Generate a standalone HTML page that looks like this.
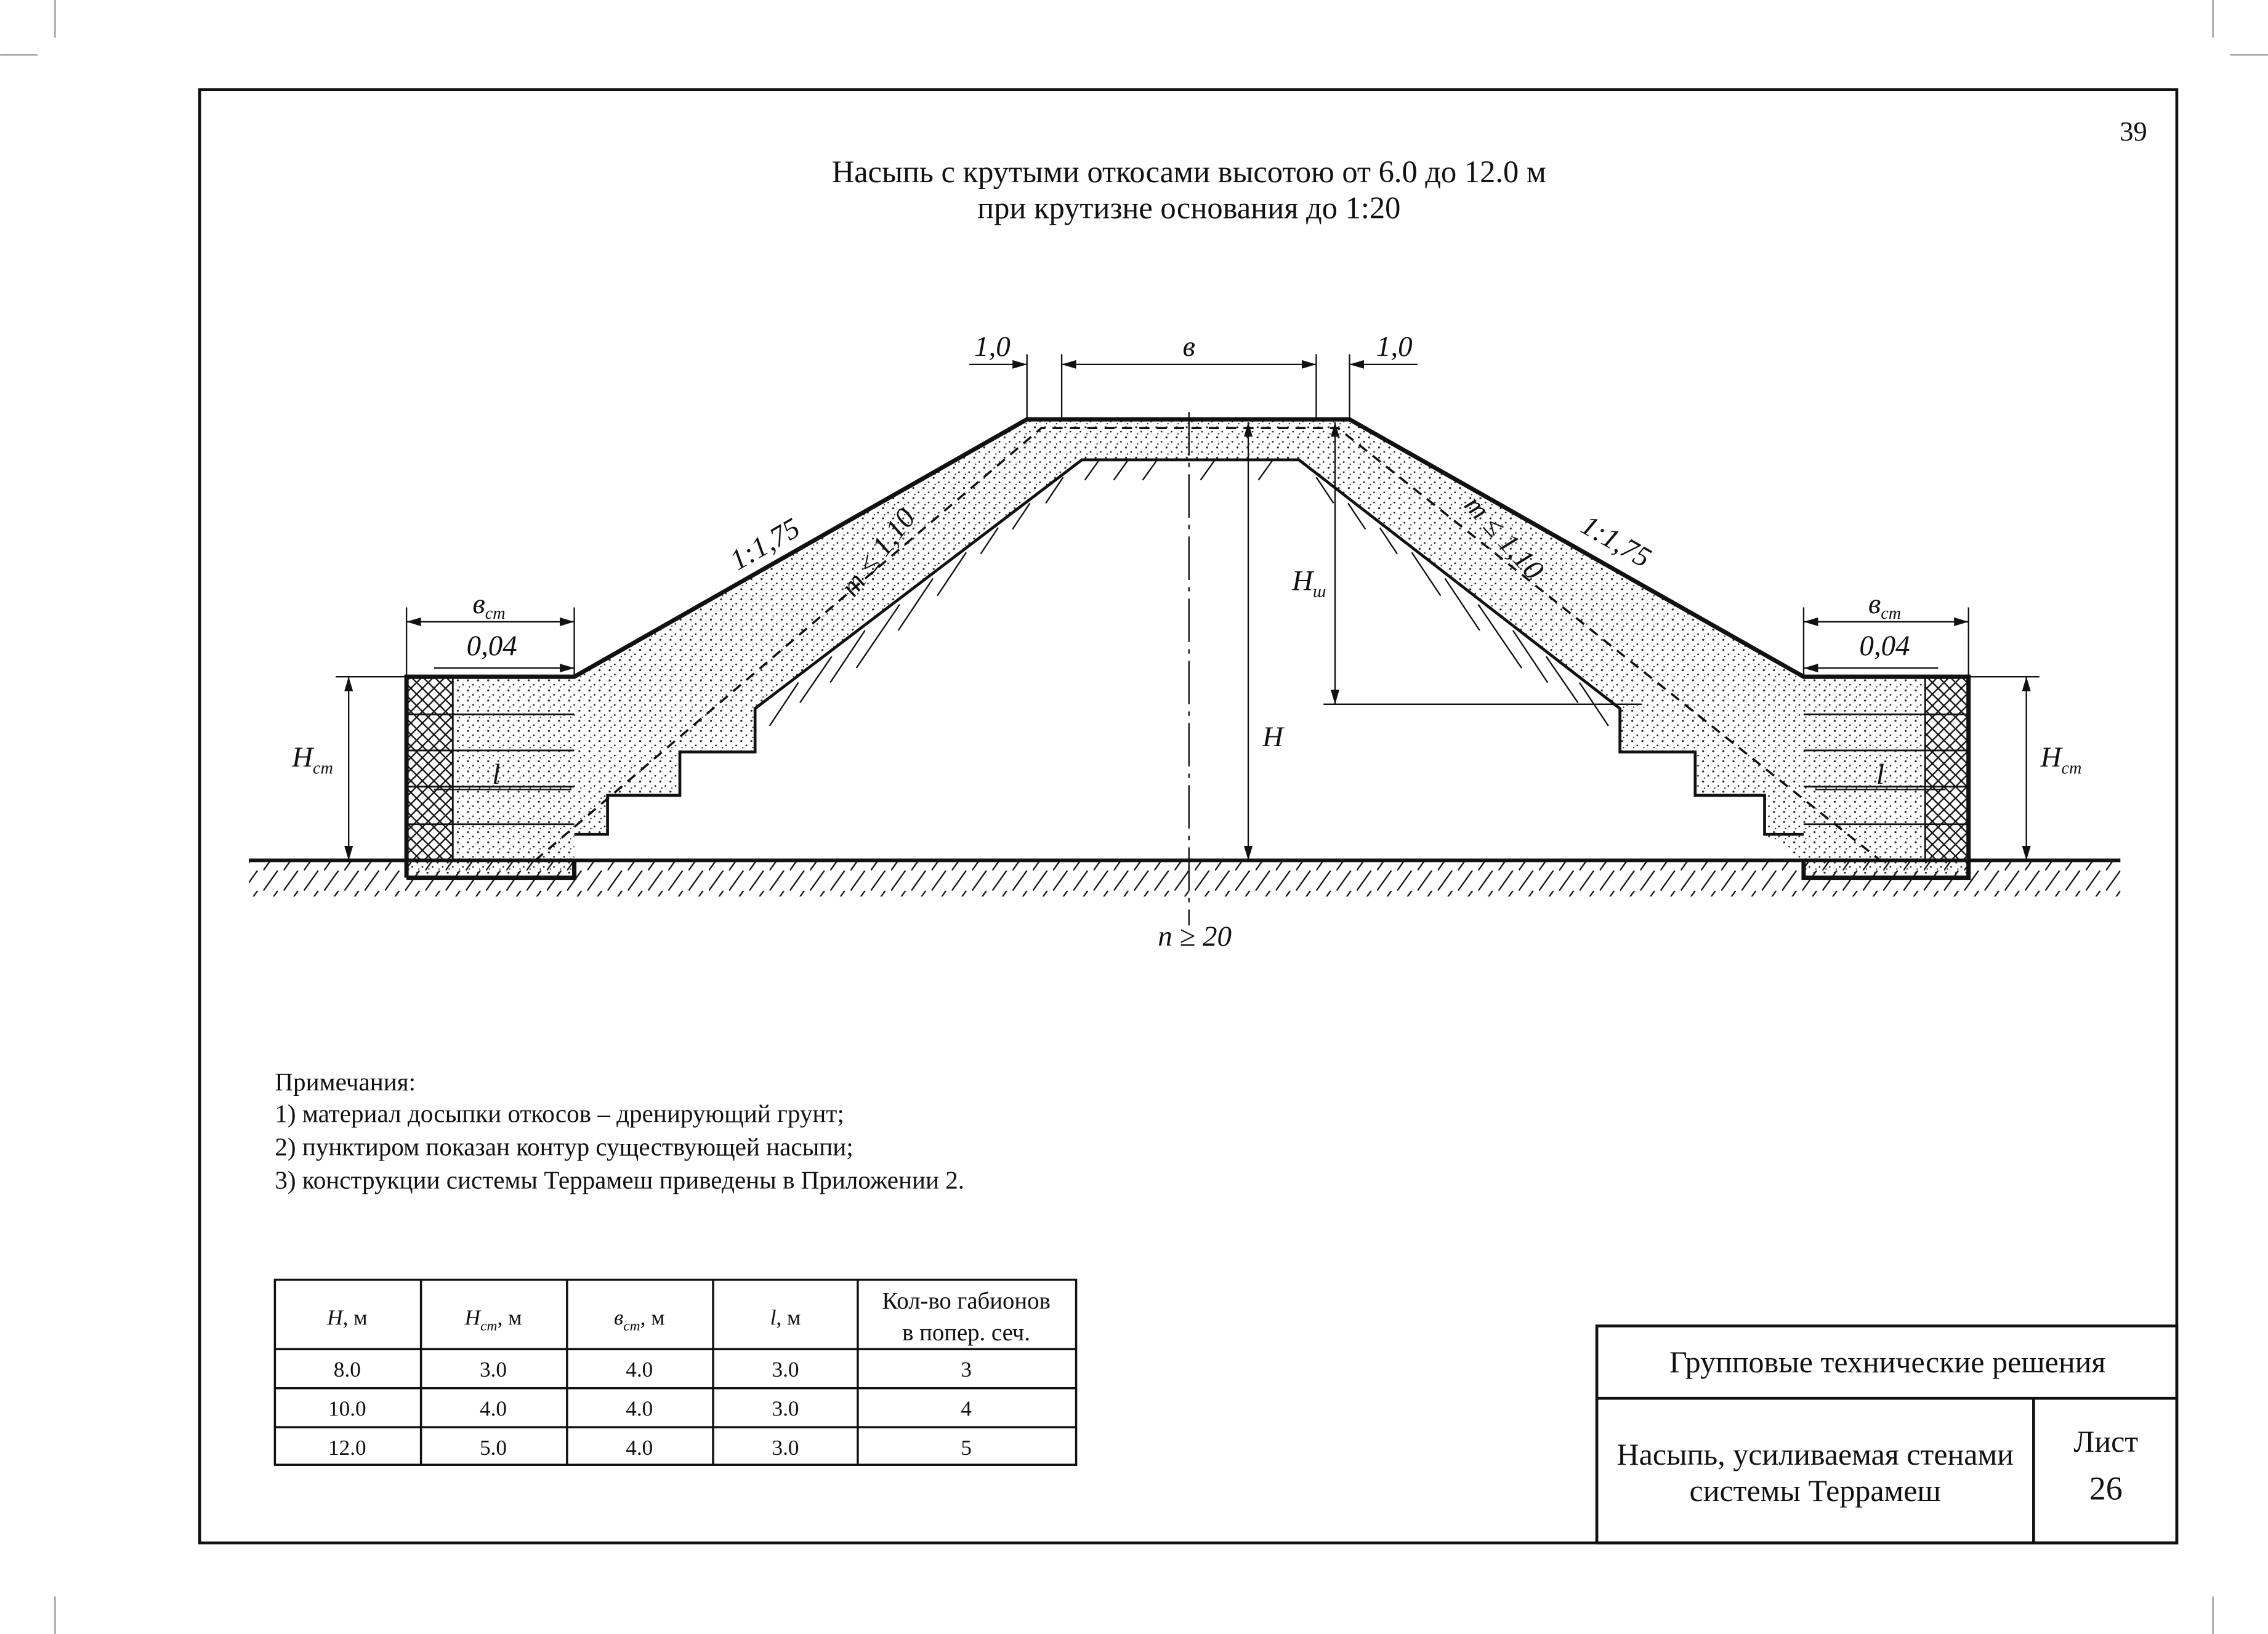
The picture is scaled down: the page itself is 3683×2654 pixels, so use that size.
<!DOCTYPE html>
<html><head><meta charset="utf-8">
<style>
html,body{margin:0;padding:0;background:#fff;}
svg{display:block;}
text{font-family:"Liberation Serif",serif;fill:#111;}
.it{font-style:italic;}
</style></head>
<body>
<svg width="3683" height="2654" viewBox="0 0 1568 1130" xmlns="http://www.w3.org/2000/svg">
<defs>
<pattern id="dots" width="7" height="7" patternUnits="userSpaceOnUse">
<circle cx="1.5" cy="1.5" r="0.7" fill="#222"/><circle cx="5" cy="4.5" r="0.6" fill="#222"/><circle cx="2.5" cy="6" r="0.5" fill="#222"/>
</pattern>
<pattern id="xh" width="8" height="8" patternUnits="userSpaceOnUse">
<rect width="8" height="8" fill="#fff"/>
<path d="M0,0L8,8M8,0L0,8" stroke="#111" stroke-width="1"/>
</pattern>
<pattern id="gh" width="14" height="14" patternUnits="userSpaceOnUse">
<path d="M0,14L10,0" stroke="#111" stroke-width="1"/>
</pattern>
</defs>
<rect width="1568" height="1130" fill="#fff"/>
<g stroke="#999" stroke-width="1">
<line x1="38" y1="0" x2="38" y2="26"/><line x1="0" y1="38" x2="26" y2="38"/>
<line x1="1530" y1="0" x2="1530" y2="26"/><line x1="1542" y1="38" x2="1568" y2="38"/>
<line x1="38" y1="1104" x2="38" y2="1130"/><line x1="1530" y1="1104" x2="1530" y2="1130"/>
</g>
<rect x="138" y="62" width="1367" height="1005" fill="none" stroke="#111" stroke-width="2"/>
<text x="1475" y="97" font-size="19" text-anchor="middle">39</text>
<text x="822" y="126" font-size="21.5" text-anchor="middle">Насыпь с крутыми откосами высотою от 6.0 до 12.0 м</text>
<text x="822" y="151" font-size="21.5" text-anchor="middle">при крутизне основания до 1:20</text>

<rect x="172" y="596" width="1294" height="24" fill="url(#gh)"/>
<path d="M397,468 L710,290 L933,290 L1247,468 L1247,595 L1220,577 L1220,550 L1172,550 L1172,520 L1120,520 L1120,490 L898,318 L748,318 L522,490 L522,520 L470,520 L470,550 L420,550 L420,577 L397,577 Z" fill="url(#dots)" stroke="none"/>
<g stroke="#111" stroke-width="1">
<path d="M760,318 l-10,14 M780,318 l-10,14 M800,318 l-10,14 M840,318 l-10,14 M880,318 l-10,14"/>
<path d="M735,330 l-12,18 M712,348 l-12,18 M690,365 l-12,18 M668,382 l-20,30 M645,400 l-24,36 M622,418 l-30,44 M598,436 l-24,36 M575,454 l-22,32 M552,472 l-20,30"/>
<path d="M910,330 l12,18 M932,348 l12,18 M954,365 l12,18 M976,382 l20,30 M999,400 l24,36 M1022,418 l30,44 M1046,436 l24,36 M1069,454 l22,32 M1092,472 l20,30"/>
</g>
<rect x="281" y="468" width="116" height="139" fill="url(#dots)"/>
<rect x="281" y="468" width="32" height="127" fill="url(#xh)"/>
<rect x="1247" y="468" width="114" height="139" fill="url(#dots)"/>
<rect x="1331" y="468" width="30" height="127" fill="url(#xh)"/>
<g stroke="#111" stroke-width="1.2">
<line x1="281" y1="494" x2="397" y2="494"/><line x1="281" y1="519" x2="397" y2="519"/><line x1="281" y1="544" x2="397" y2="544"/><line x1="281" y1="570" x2="397" y2="570"/>
<line x1="313" y1="468" x2="313" y2="595"/>
<line x1="1247" y1="494" x2="1361" y2="494"/><line x1="1247" y1="519" x2="1361" y2="519"/><line x1="1247" y1="544" x2="1361" y2="544"/><line x1="1247" y1="570" x2="1361" y2="570"/>
<line x1="1331" y1="468" x2="1331" y2="595"/>
</g>
<g fill="none" stroke="#111">
<path d="M281,607 L281,468 L397,468 L710,290 L933,290 L1247,468 L1361,468 L1361,607 L1247,607 L1247,595 M397,595 L397,607 L281,607" stroke-width="3"/>
<path d="M397,577 L420,577 L420,550 L470,550 L470,520 L522,520 L522,490 L748,318 L898,318 L1120,490 L1120,520 L1172,520 L1172,550 L1220,550 L1220,577 L1247,577" stroke-width="2"/>
<line x1="172" y1="595" x2="1466" y2="595" stroke-width="2.5"/>
<path d="M370,595 L720,296 L925,296 L1300,595" stroke-width="1.5" stroke-dasharray="7,5"/>
<line x1="822" y1="285" x2="822" y2="640" stroke-width="1" stroke-dasharray="30,5,3,5"/>
</g>
<g stroke="#111" stroke-width="1" fill="none">
<line x1="710" y1="245" x2="710" y2="290"/><line x1="734" y1="245" x2="734" y2="290"/>
<line x1="910" y1="245" x2="910" y2="290"/><line x1="933" y1="245" x2="933" y2="290"/>
<line x1="670" y1="252" x2="710" y2="252"/><line x1="734" y1="252" x2="910" y2="252"/><line x1="933" y1="252" x2="980" y2="252"/>
<line x1="863" y1="292" x2="863" y2="595"/>
<line x1="923" y1="292" x2="923" y2="487"/><line x1="915" y1="487" x2="1135" y2="487"/>
<line x1="281" y1="420" x2="281" y2="468"/><line x1="397" y1="420" x2="397" y2="468"/>
<line x1="281" y1="430" x2="397" y2="430"/><line x1="300" y1="462" x2="397" y2="462"/>
<line x1="1247" y1="420" x2="1247" y2="468"/><line x1="1361" y1="420" x2="1361" y2="468"/>
<line x1="1247" y1="430" x2="1361" y2="430"/><line x1="1247" y1="462" x2="1340" y2="462"/>
<line x1="232" y1="468" x2="281" y2="468"/><line x1="241" y1="468" x2="241" y2="595"/>
<line x1="1361" y1="468" x2="1410" y2="468"/><line x1="1401" y1="468" x2="1401" y2="595"/>
<line x1="300" y1="546" x2="395" y2="546"/><line x1="1255" y1="546" x2="1345" y2="546"/>
</g>
<g fill="#111">
<path d="M710,252 l-10,-3 v6z"/><path d="M734,252 l10,-3 v6z"/><path d="M910,252 l-10,-3 v6z"/><path d="M933,252 l10,-3 v6z"/>
<path d="M863,292 l-3,10 h6z"/><path d="M863,595 l-3,-10 h6z"/>
<path d="M923,292 l-3,10 h6z"/><path d="M923,487 l-3,-10 h6z"/>
<path d="M281,430 l10,-3 v6z"/><path d="M397,430 l-10,-3 v6z"/><path d="M397,462 l-10,-3 v6z"/>
<path d="M1247,430 l10,-3 v6z"/><path d="M1361,430 l-10,-3 v6z"/><path d="M1247,462 l10,-3 v6z"/>
<path d="M241,468 l-3,10 h6z"/><path d="M241,595 l-3,-10 h6z"/>
<path d="M1401,468 l-3,10 h6z"/><path d="M1401,595 l-3,-10 h6z"/>
</g>
<g class="it" font-size="20">
<text x="686" y="246" text-anchor="middle">1,0</text>
<text x="822" y="246" text-anchor="middle">в</text>
<text x="964" y="246" text-anchor="middle">1,0</text>
<text x="880" y="516" text-anchor="middle">H</text>
<text x="905" y="408" text-anchor="middle">H<tspan font-size="12" dy="5">ш</tspan></text>
<text x="338" y="424" text-anchor="middle">в<tspan font-size="12" dy="4">ст</tspan></text>
<text x="340" y="453" text-anchor="middle">0,04</text>
<text x="1303" y="424" text-anchor="middle">в<tspan font-size="12" dy="4">ст</tspan></text>
<text x="1303" y="453" text-anchor="middle">0,04</text>
<text x="216" y="530" text-anchor="middle">H<tspan font-size="12" dy="5">ст</tspan></text>
<text x="1425" y="530" text-anchor="middle">H<tspan font-size="12" dy="5">ст</tspan></text>
<text x="343" y="542" text-anchor="middle">l</text>
<text x="1300" y="542" text-anchor="middle">l</text>
<text x="826" y="654" text-anchor="middle">n ≥ 20</text>
<text transform="translate(532,382) rotate(-30)" text-anchor="middle">1:1,75</text>
<text transform="translate(1114,380) rotate(30)" text-anchor="middle">1:1,75</text>
<text transform="translate(612,386) rotate(-52)" text-anchor="middle">m ≤ 1,10</text>
<text transform="translate(1035,376) rotate(48)" text-anchor="middle">m ≤ 1,10</text>
</g>
<g font-size="17.5">
<text x="190" y="754">Примечания:</text>
<text x="190" y="776">1) материал досыпки откосов – дренирующий грунт;</text>
<text x="190" y="799">2) пунктиром показан контур существующей насыпи;</text>
<text x="190" y="822">3) конструкции системы Террамеш приведены в Приложении 2.</text>
</g>
<g stroke="#111" stroke-width="1.5" fill="none">
<rect x="190" y="885" width="554" height="128"/>
<line x1="190" y1="933" x2="744" y2="933"/><line x1="190" y1="960" x2="744" y2="960"/><line x1="190" y1="987" x2="744" y2="987"/>
<line x1="291" y1="885" x2="291" y2="1013"/><line x1="392" y1="885" x2="392" y2="1013"/><line x1="493" y1="885" x2="493" y2="1013"/><line x1="593" y1="885" x2="593" y2="1013"/>
</g>
<g font-size="15" text-anchor="middle">
<text x="240" y="916"><tspan class="it">H</tspan>, м</text>
<text x="341" y="916"><tspan class="it">H<tspan font-size="10" dy="4">ст</tspan></tspan><tspan dy="-4">, м</tspan></text>
<text x="442" y="916"><tspan class="it">в<tspan font-size="10" dy="4">ст</tspan></tspan><tspan dy="-4">, м</tspan></text>
<text x="543" y="916"><tspan class="it">l</tspan>, м</text>
<text x="668" y="905" font-size="16.5">Кол-во габионов</text>
<text x="668" y="927" font-size="16.5">в попер. сеч.</text>
<text x="240" y="952">8.0</text><text x="341" y="952">3.0</text><text x="442" y="952">4.0</text><text x="543" y="952">3.0</text><text x="668" y="952">3</text>
<text x="240" y="979">10.0</text><text x="341" y="979">4.0</text><text x="442" y="979">4.0</text><text x="543" y="979">3.0</text><text x="668" y="979">4</text>
<text x="240" y="1006">12.0</text><text x="341" y="1006">5.0</text><text x="442" y="1006">4.0</text><text x="543" y="1006">3.0</text><text x="668" y="1006">5</text>
</g>
<g stroke="#111" stroke-width="2" fill="none">
<rect x="1104" y="917" width="401" height="150"/>
<line x1="1104" y1="967" x2="1505" y2="967"/>
<line x1="1406" y1="967" x2="1406" y2="1067"/>
</g>
<g font-size="21.3" text-anchor="middle">
<text x="1305" y="949">Групповые технические решения</text>
<text x="1255" y="1013">Насыпь, усиливаемая стенами</text>
<text x="1255" y="1038">системы Террамеш</text>
<text x="1456" y="1004">Лист</text>
<text x="1456" y="1037" font-size="23">26</text>
</g>
</svg>
</body></html>
